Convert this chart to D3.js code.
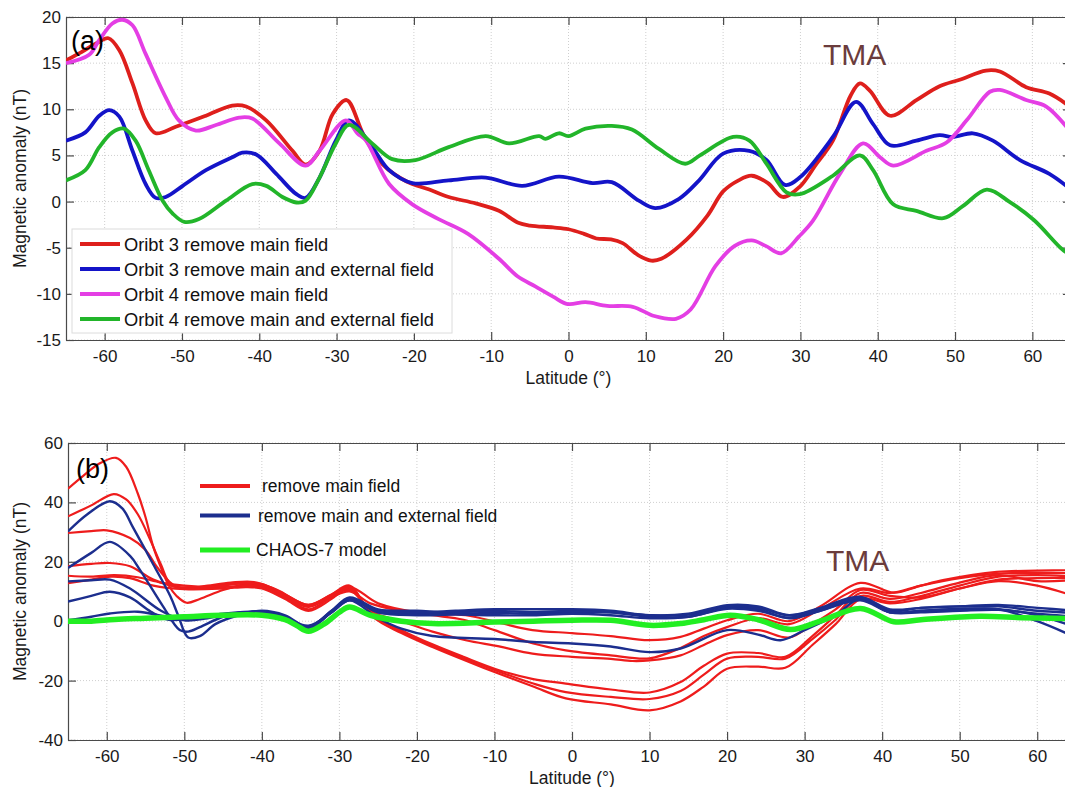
<!DOCTYPE html>
<html>
<head>
<meta charset="utf-8">
<script src="https://cdn.jsdelivr.net/npm/d3@7"></script>
<style>
  body { margin: 0; background: #fff; }
  svg { font-family: "Liberation Sans", Arial, sans-serif; }
  .grid line { stroke: #cfcfcf; stroke-width: 1; stroke-dasharray: 1,2; }
  .axis path, .axis line { stroke: #4a4a4a; stroke-width: 1.2; }
  .axis text { fill: #1a1a1a; font-size: 17px; }
</style>
</head>
<body>
<svg id="chart" width="1065" height="787"></svg>
<script>
/* Two stacked panels: (a) single orbits, (b) all orbits + CHAOS-7 model.
   Values are [latitude, anomaly nT]. */

const LAT_TICKS = [-60, -50, -40, -30, -20, -10, 0, 10, 20, 30, 40, 50, 60];
const A_TICKS = [-15, -10, -5, 0, 5, 10, 15, 20];
const B_TICKS = [-40, -20, 0, 20, 40, 60];

/* Panel (a) */
const orbit3Main = [[-65,15.3],[-63,16.2],[-61,17.2],[-59.5,17.7],[-58.1,16.4],[-56.4,12.8],[-54.7,8.8],[-53.4,7.4],[-50.8,8.1],[-46.9,9.3],[-43.5,10.4],[-41.7,10.3],[-39.1,8.8],[-35.7,5.5],[-34,4.0],[-32.2,5.5],[-30.5,9.5],[-28.7,11],[-26.5,7.2],[-24,4],[-21,2.2],[-18,1.3],[-15.5,0.5],[-12,-0.2],[-9,-1.0],[-6.5,-2.3],[-5,-2.6],[-2,-2.8],[0,-3.0],[2,-3.5],[3.6,-4.0],[5.5,-4.1],[7,-4.5],[9,-5.8],[10.7,-6.4],[12,-6.2],[15.3,-4.1],[18,-1.5],[20,1.1],[22,2.3],[23.7,2.8],[25.8,2.0],[27.7,0.5],[29.9,1.6],[32,4],[34.2,6.6],[36.5,11.5],[37.7,12.8],[39,12],[41.6,9.3],[45,11],[48,12.5],[50.6,13.2],[54,14.2],[55.8,14.1],[59.2,12.4],[62.2,11.7],[65,10.2]];
const orbit3Full = [[-65,6.6],[-62.5,7.5],[-60.7,9.3],[-59.4,9.9],[-58.1,9.2],[-56.4,5.5],[-54.7,1.9],[-53.4,0.4],[-52.1,0.5],[-49.9,1.7],[-46.9,3.4],[-43.5,4.8],[-42.2,5.3],[-40.4,5.1],[-37.8,3.0],[-35.2,0.8],[-34,0.4],[-32.2,2.6],[-30.1,6.6],[-28.4,8.8],[-25.4,5.9],[-23.2,3.4],[-20.2,2.0],[-15.5,2.3],[-10.7,2.6],[-6,1.7],[-1.25,2.7],[3.1,2.0],[5.6,2.1],[9.1,0.1],[11.2,-0.7],[14.3,0.3],[16.9,2.3],[20,5.2],[23.4,5.5],[25.6,4.5],[28,1.8],[29.9,2.6],[34.2,7.0],[37.2,10.8],[39.4,8.4],[41.6,6.1],[45,6.6],[48,7.2],[49.7,7.0],[52.3,7.4],[54.9,6.6],[58.4,4.5],[62.2,3.0],[65,1.3]];
const orbit4Main = [[-65,15.0],[-62,15.9],[-60.7,17.5],[-59,19.3],[-57.7,19.7],[-56.4,19.1],[-54.7,16],[-52.1,11.3],[-50.4,8.8],[-48.2,7.7],[-45.6,8.3],[-42.6,9.1],[-40.9,9.0],[-37.4,6.3],[-34,3.9],[-32.2,5.5],[-28.8,8.8],[-27.3,7.4],[-26.2,6.6],[-23.2,1.9],[-20.2,-0.3],[-16.8,-1.9],[-13,-3.5],[-9,-6.2],[-6.6,-8.1],[-4.3,-9.2],[-2,-10.3],[-0.1,-11.1],[2.2,-10.9],[5,-11.3],[8.3,-11.4],[11.1,-12.4],[13.9,-12.7],[15.8,-11.7],[19,-7.0],[21.5,-4.8],[23.7,-4.2],[25.5,-4.8],[27.5,-5.6],[29.8,-3.8],[31.6,-2.1],[35.1,3.0],[38.1,6.3],[40.3,4.8],[42,3.9],[46.3,5.5],[48.9,6.4],[51.5,8.8],[54.5,11.9],[55.8,12.1],[59.2,11],[61.8,10.3],[65,7.5]];
const orbit4Full = [[-65,2.3],[-62.5,3.4],[-60.7,5.9],[-59,7.5],[-57.5,7.9],[-56,6.6],[-54.3,3.4],[-52.5,0.1],[-51.2,-1.3],[-49.7,-2.2],[-47.8,-1.9],[-44.3,0.1],[-40.9,1.9],[-39.1,1.7],[-37,0.5],[-35.2,-0.1],[-34,0.1],[-32.2,2.6],[-30.1,6.3],[-28.4,8.3],[-25.4,6.3],[-22.8,4.6],[-19.8,4.5],[-15.5,5.9],[-10.7,7.1],[-7.7,6.3],[-3.8,7.1],[-3,6.8],[-1.25,7.4],[0,7.1],[2.2,7.9],[5.6,8.2],[8.2,7.8],[11.7,5.7],[15.1,4.1],[17,5.0],[21.3,7.0],[23.4,6.6],[25.6,4.1],[28.2,1.0],[29.9,0.8],[34.2,2.8],[37.7,5.0],[39.4,3.4],[42,-0.3],[45,-1],[48.5,-1.8],[51,-0.5],[54.1,1.3],[57,0],[60.2,-2],[63.9,-5.2],[65,-5.8]];

const A_SERIES = [orbit3Main, orbit3Full, orbit4Main, orbit4Full];
const A_LABELS = ["Oribt 3 remove main field", "Orbit 3 remove main and external field",
                  "Orbit 4 remove main field", "Orbit 4 remove main and external field"];
const A_COLORS = ["#de1f1c", "#1414c8", "#e43ee4", "#22b52a"];

/* Panel (b) */
const mainRemoved = [
  [[-65,44.6],[-63,49],[-61,53],[-58.8,55],[-57.5,52],[-56,43],[-55,35],[-54,25],[-53,18],[-52,12],[-51,8.5],[-49.7,6.2],[-48,7.5],[-45,10.5],[-42,12.5],[-40,12.5],[-37,9],[-34,5.5],[-31,9],[-28.7,12],[-25.7,1.5],[-22,-4],[-18,-8.7],[-14,-13],[-9.4,-17.7],[-5,-22],[-0.8,-26],[5,-28],[10,-30],[14,-27],[17,-22],[20,-16],[24,-15.3],[27.5,-15.7],[31,-8],[34,-1],[37.2,7.5],[41,6],[45,7.5],[50,11],[55,14],[60,14.5],[65,14.5]],
  [[-65,35.3],[-62,39],[-59.1,42.8],[-57.5,41],[-56,36],[-54.5,28],[-53,19],[-51.8,12.5],[-50,11],[-47,12],[-44,13],[-41,13.2],[-38,10.5],[-34,5.5],[-31,9],[-28.7,11.5],[-25.7,2],[-22,-3.5],[-18,-8.3],[-14,-12.5],[-9.4,-17],[-5,-21],[-0.8,-23.9],[5,-25.5],[10,-26.2],[14,-23.5],[17,-18],[20,-12.6],[24,-12],[27.5,-12.6],[31,-6],[34,0.5],[37.2,8.5],[41,6.5],[45,8.5],[50,12],[55,15],[60,15.5],[65,15]],
  [[-65,29.7],[-62,30.3],[-60,30.6],[-57,28],[-55,24],[-53.6,18.5],[-52,13.5],[-51,11.7],[-48,11.5],[-44,12.5],[-41,12.5],[-38,10],[-34,4.8],[-31,8.5],[-28.7,11],[-25.7,2.2],[-22,-3],[-18,-7.8],[-14,-12],[-9.4,-16.5],[-5,-19.5],[-0.8,-21],[5,-23],[10,-24],[14,-20.5],[17,-15],[20,-10.9],[24,-10.7],[27.5,-12],[31,-5],[34,2],[37.2,9.5],[41,7.5],[45,9.5],[50,13],[55,15.5],[60,13.5],[65,13.9]],
  [[-65,18.5],[-62,19.3],[-59.6,19.6],[-57,18.5],[-54,14],[-51,11.5],[-48,11],[-45,12],[-42,12.8],[-40,12],[-37,8.5],[-34,5],[-31,8.5],[-28.7,10.5],[-25.7,3],[-22,0],[-18,-3.5],[-13.7,-6.4],[-9.4,-8.5],[-5.1,-10.9],[0,-12],[5,-12.7],[7.8,-13.4],[10,-13.2],[14,-11.5],[17,-8],[20,-4.7],[24,-3],[28,-5.5],[31,-1],[34,4],[37.2,10.5],[41,8.5],[45,8],[50,11],[55,13.5],[60,12],[65,8.3]],
  [[-65,15.3],[-62,15],[-59,15.5],[-56,14.8],[-53,13],[-50,12],[-45,11.5],[-42,12],[-40,11.5],[-37,8],[-34,4],[-31,8],[-28.7,10],[-26,6],[-22,3.5],[-18,2],[-14,0.5],[-10,-3],[-5,-7.5],[-0.8,-9.8],[5,-11.5],[10,-12.5],[14,-9],[17,-5],[20,-2],[24,1],[28,-1],[32,4],[37.2,11],[41,9.5],[45,12],[50,14.5],[55,16],[60,16.3],[65,16.1]],
  [[-65,12.8],[-62,14],[-59.5,15],[-57,14.5],[-54,12],[-50,10.8],[-45,11],[-42,11.5],[-40,11],[-37,7.5],[-34,3.5],[-31,7.5],[-28.7,11.5],[-25,6],[-20,3],[-13.7,2],[-9.4,-0.5],[-5.1,-3],[0,-4],[5,-5],[9.9,-6.4],[14,-5.3],[17,-2.5],[20,0.3],[24,2.5],[28,0],[32,5],[37.2,12.9],[41.5,9.6],[45,12],[48,13.9],[54.8,16.6],[60,17],[65,17.2]]
];
const mainExtRemoved = [
  [[-65,30.2],[-62.5,36],[-59.6,40.4],[-58,38],[-56.6,31.5],[-54,19.1],[-51.8,8.4],[-50.8,2],[-49.5,-5.5],[-48,-5],[-46,-1],[-43,2],[-40,3.5],[-37,2],[-34,-2],[-31,3.5],[-28.7,7.5],[-25,3],[-20,2.5],[-15,2.5],[-10,2.8],[-5,2.5],[0,3],[5,3],[10,1.5],[15,1.5],[20,4.5],[24,4],[28,1],[32,3.5],[37.2,7.5],[41,3],[45,3],[50,3.5],[55,3.8],[60,2.5],[65,1.5]],
  [[-65,17.9],[-62,23],[-59.6,26.7],[-57,22],[-55.7,17.2],[-52.7,4.8],[-50.6,-3],[-49.5,-3.5],[-48,-2],[-45,1.5],[-42,3],[-40,3.3],[-37,1.5],[-34,-2.5],[-31,3],[-28.7,7],[-25,1],[-22,-2.5],[-18,-5],[-10,-6],[-5,-7],[0,-7.5],[5,-8.5],[10,-10.4],[14,-9.2],[20,-3],[24,-4.5],[26.9,-6.4],[30,-3],[34,2],[37.2,7.6],[41,3],[45,3.5],[50,4.2],[55,4],[60,2],[65,-2]],
  [[-65,13.4],[-62,13.8],[-59.6,14],[-57,11],[-53,3.5],[-50,0.3],[-47,1],[-44,2.5],[-40,3],[-37,1],[-34,-2],[-31,3.5],[-28.7,8],[-25,4],[-20,3.5],[-15,3],[-10,3.5],[-5,3],[0,3.5],[5,3],[10,2],[15,2.2],[20,5],[24,4.5],[28,2],[32,4.5],[37.2,8.2],[41,3.5],[45,4.5],[50,5],[55,5],[60,3.5],[65,2.8]],
  [[-65,6.6],[-62,8.5],[-59.6,9.9],[-57,8],[-54.3,3.2],[-52,0.5],[-49,1],[-45,2.5],[-40,3.2],[-37,1.2],[-34,-1.5],[-31,3],[-28.7,7.5],[-25,3],[-20,2],[-15,2.2],[-10,2],[-5,2],[0,2.5],[5,2],[10,1],[15,1.5],[20,4.2],[24,3.5],[28,1.2],[32,3.5],[37.2,7],[41,3],[45,3.5],[50,4],[55,4],[60,0],[65,-5.5]],
  [[-65,0.3],[-62,1.5],[-59.6,2.6],[-56,3.2],[-52,1.5],[-48,1.5],[-44,2.5],[-40,3],[-37,1],[-34,-2],[-31,3],[-28.7,7],[-25,3.5],[-20,3],[-15,3.5],[-10,4],[-5,4],[0,4],[5,3.5],[10,2],[15,2.5],[20,5.4],[24,5],[28,2],[32,4],[37.2,8],[41,4],[45,4.5],[50,5],[55,5.5],[60,4.5],[65,3.5]]
];
const chaos7 = [[-65,0],[-62,0],[-59,0.6],[-55,1],[-50,1.5],[-45,2],[-40,2],[-37,0.5],[-35.5,-1.5],[-34,-3.4],[-32,-1],[-30,3],[-28.7,4.8],[-26,2],[-22,0],[-18,-0.8],[-10,-0.3],[-5,0],[0,0.3],[5,0.3],[10,-1.4],[14,-0.8],[17,0.5],[20.4,2],[24,0.5],[28.2,-2.8],[32,0],[37.2,4.3],[41.5,-0.2],[45,0.5],[52.6,1.7],[58,1.2],[63.6,0.9],[65,0.9]];

const B_LABELS = ["remove main field", "remove main and external field", "CHAOS-7 model"];
const B_COLORS = ["#ee1c1c", "#1c2e8e", "#22ee22"];


/* Draw one framed panel (grid, box ticks, labels) and return its scales */
function makePanel(svg, opts) {
    let x = d3.scaleLinear().domain([-65, 65]).range(opts.xRange);
    let y = d3.scaleLinear().domain(opts.yDomain).range(opts.yRange);
    let g = svg.append('g');
    let [x0, x1] = opts.xRange, [y1, y0] = opts.yRange;
    let plain = d => String(d);   // hyphen minus, like the original

    // dotted grid
    let grid = g.append('g').attr('class', 'grid');
    grid.selectAll('.gx').data(LAT_TICKS).join('line')
        .attr('x1', d => x(d)).attr('x2', d => x(d))
        .attr('y1', y0).attr('y2', y1);
    grid.selectAll('.gy').data(opts.yTicks).join('line')
        .attr('x1', x0).attr('x2', x1)
        .attr('y1', d => y(d)).attr('y2', d => y(d));

    // box with inward ticks, MATLAB style
    g.append('g').attr('class', 'axis').attr('transform', `translate(0,${y1})`)
        .call(d3.axisBottom(x).tickValues(LAT_TICKS).tickFormat(plain).tickSize(-8).tickPadding(10).tickSizeOuter(0));
    g.append('g').attr('class', 'axis').attr('transform', `translate(0,${y0})`)
        .call(d3.axisTop(x).tickValues(LAT_TICKS).tickSize(-8).tickFormat('').tickSizeOuter(0));
    g.append('g').attr('class', 'axis').attr('transform', `translate(${x0},0)`)
        .call(d3.axisLeft(y).tickValues(opts.yTicks).tickFormat(plain).tickSize(-8).tickPadding(5).tickSizeOuter(0));
    g.append('g').attr('class', 'axis').attr('transform', `translate(${x1},0)`)
        .call(d3.axisRight(y).tickValues(opts.yTicks).tickSize(-8).tickFormat('').tickSizeOuter(0));
    g.selectAll('.axis .tick text').attr('font-family', null).attr('font-size', null);
    g.selectAll('.axis .domain').attr('stroke', '#4a4a4a');

    g.append('text')
        .attr('x', x(0)).attr('y', y1 + 44)
        .attr('text-anchor', 'middle').attr('font-size', 17.5).attr('fill', '#1a1a1a')
        .text('Latitude (°)');
    g.append('text')
        .attr('transform', `translate(26,${(y0 + y1) / 2}) rotate(-90)`)
        .attr('text-anchor', 'middle').attr('font-size', 17.5).attr('fill', '#1a1a1a')
        .text('Magnetic anomaly (nT)');

    let clipId = 'clip-' + opts.name;
    svg.append('clipPath').attr('id', clipId).append('rect')
        .attr('x', x0).attr('y', y0).attr('width', x1 - x0).attr('height', y1 - y0);
    let plot = g.append('g').attr('clip-path', `url(#${clipId})`);

    let line = d3.line()
        .x(d => x(d[0])).y(d => y(d[1]))
        .curve(d3.curveCatmullRom.alpha(0.5));
    return {x, y, g, plot, line};
}


const svg = d3.select('#chart');

/* (a) */
let pa = makePanel(svg, {name: 'a', xRange: [66, 1071], yDomain: [-15, 20], yRange: [340, 17], yTicks: A_TICKS});
pa.plot.selectAll('path.a').data(A_SERIES).join('path')
    .attr('d', pa.line)
    .attr('fill', 'none')
    .attr('stroke', (d, i) => A_COLORS[i])
    .attr('stroke-width', 3.8)
    .attr('stroke-linejoin', 'round');

pa.g.append('text').attr('x', 71).attr('y', 50).attr('font-size', 27).text('(a)');
pa.g.append('text').attr('x', 823).attr('y', 65).attr('font-size', 30).attr('fill', '#6b3c3c').text('TMA');

let legA = pa.g.append('g');
legA.append('rect').attr('x', 72).attr('y', 229).attr('width', 380).attr('height', 104)
    .attr('fill', '#fff').attr('stroke', '#dcdcdc');
A_LABELS.forEach((label, i) => {
    let ly = 244 + i * 25;
    legA.append('line').attr('x1', 80).attr('x2', 120).attr('y1', ly).attr('y2', ly)
        .attr('stroke', A_COLORS[i]).attr('stroke-width', 4);
    legA.append('text').attr('x', 124).attr('y', ly + 6.5).attr('font-size', 18.3)
        .attr('fill', '#111').text(label);
});

/* (b) */
let pb = makePanel(svg, {name: 'b', xRange: [68, 1076], yDomain: [-40, 60], yRange: [740, 443], yTicks: B_TICKS});
pb.plot.selectAll('path.red').data(mainRemoved).join('path').attr('class', 'red')
    .attr('d', pb.line).attr('fill', 'none')
    .attr('stroke', B_COLORS[0]).attr('stroke-width', 2.2);
pb.plot.selectAll('path.blue').data(mainExtRemoved).join('path').attr('class', 'blue')
    .attr('d', pb.line).attr('fill', 'none')
    .attr('stroke', B_COLORS[1]).attr('stroke-width', 2.4);
pb.plot.append('path').datum(chaos7)
    .attr('d', pb.line).attr('fill', 'none')
    .attr('stroke', B_COLORS[2]).attr('stroke-width', 5.5);

pb.g.append('text').attr('x', 76).attr('y', 478).attr('font-size', 27).text('(b)');
pb.g.append('text').attr('x', 826).attr('y', 571).attr('font-size', 30).attr('fill', '#6b3c3c').text('TMA');

const B_LEG_Y = [486, 515.5, 550];
const B_LEG_TX = [262, 258, 256];
B_LABELS.forEach((label, i) => {
    pb.g.append('line').attr('x1', 200).attr('x2', 250).attr('y1', B_LEG_Y[i]).attr('y2', B_LEG_Y[i])
        .attr('stroke', B_COLORS[i]).attr('stroke-width', i == 2 ? 5 : 4);
    pb.g.append('text').attr('x', B_LEG_TX[i]).attr('y', B_LEG_Y[i] + 6).attr('font-size', 17.5)
        .attr('fill', '#111').text(label);
});
</script>
</body>
</html>
